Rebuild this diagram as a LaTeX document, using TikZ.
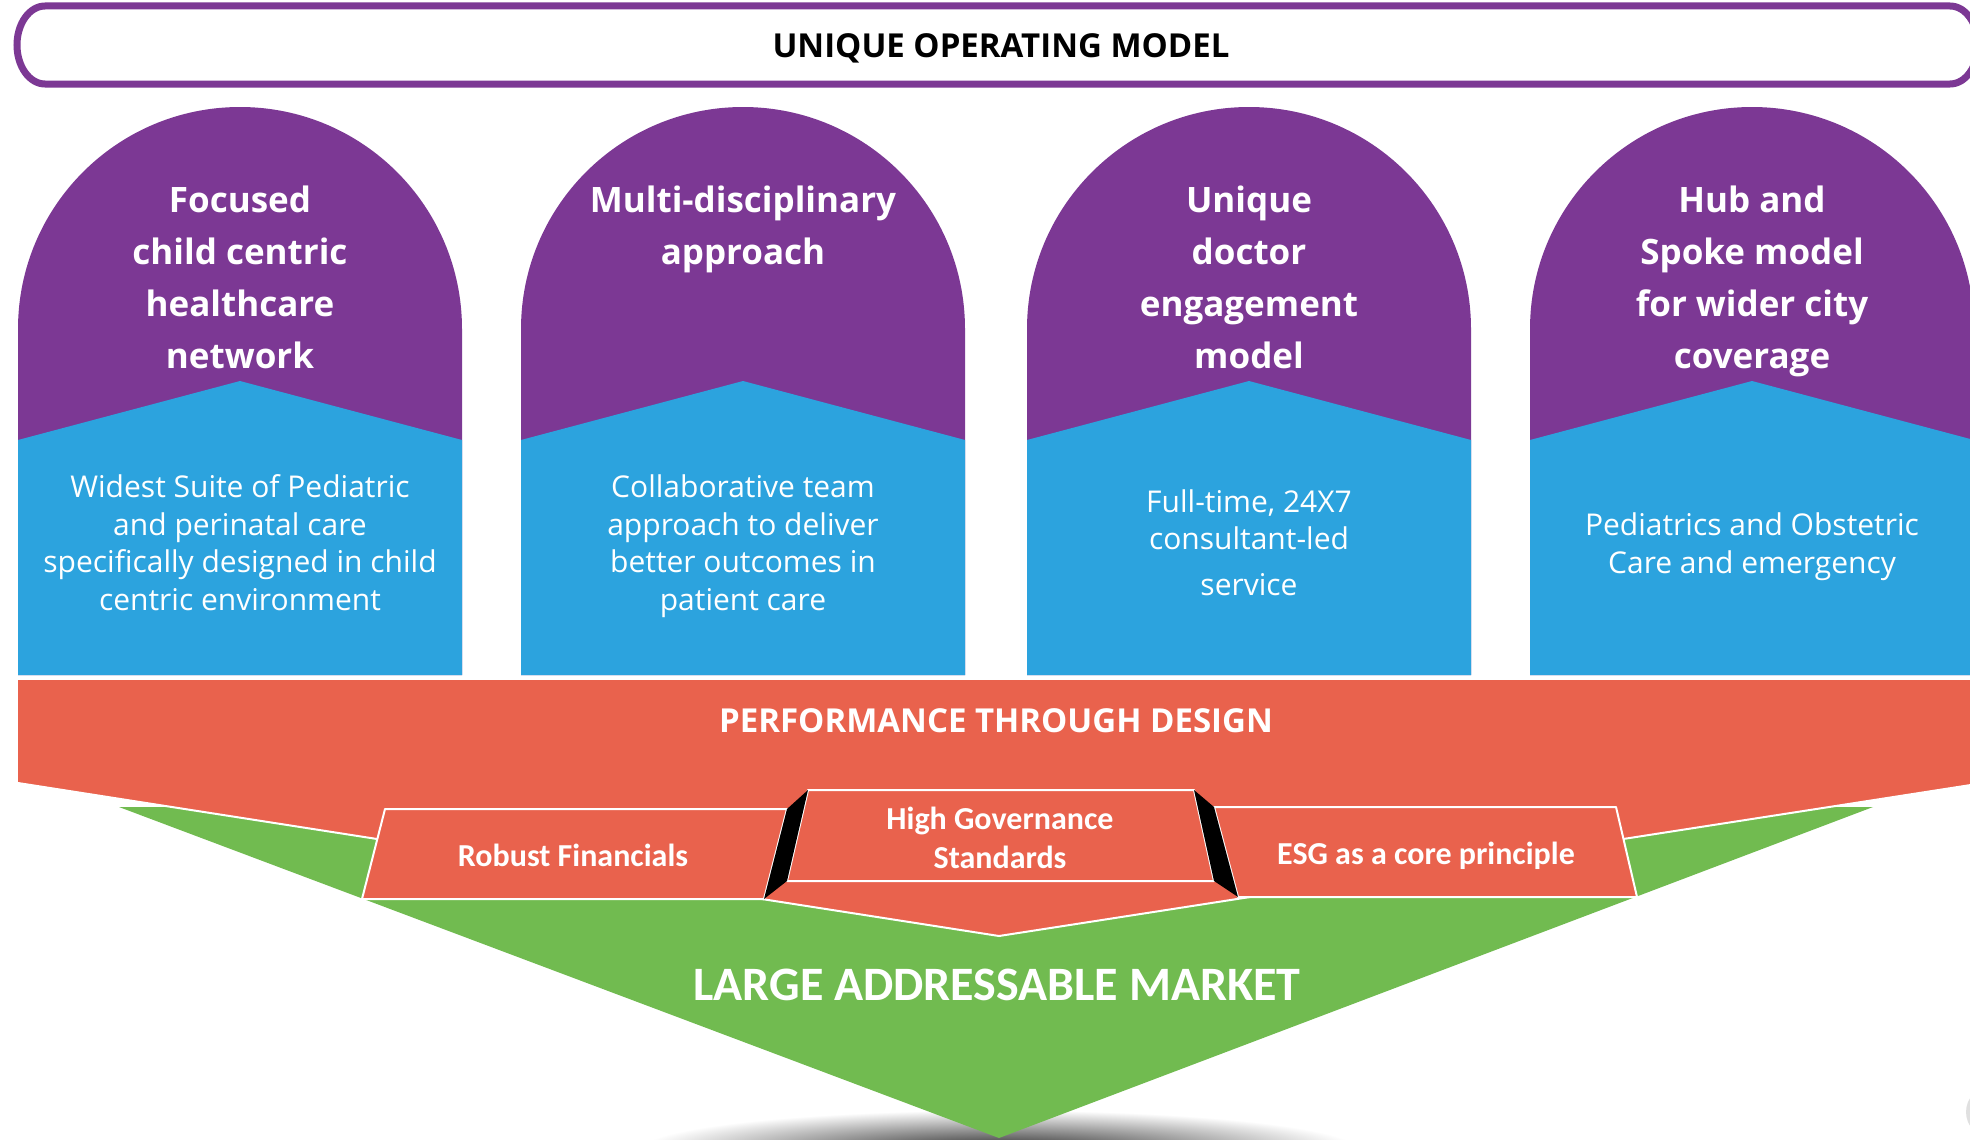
\documentclass[tikz,border=0pt]{standalone}
\usepackage{fontspec}
\setmainfont{Open Sans}
\newfontfamily\calibfont{Carlito}
\definecolor{modelpurple}{RGB}{124,56,148}
\definecolor{modelblue}{RGB}{44,163,222}
\definecolor{modelorange}{RGB}{233,98,77}
\definecolor{modelgreen}{RGB}{113,187,80}
\tikzset{
    pillar head/.style={text=white, align=center, anchor=base, font=\bfseries\fontsize{35}{52}\selectfont},
    pillar text/.style={text=white, align=center, anchor=base, font=\fontsize{30}{37.5}\selectfont},
    tile/.style={fill=modelorange, draw=white, line width=2pt, line join=round},
    tile text/.style={text=white, align=center, anchor=base, font=\calibfont\bfseries\fontsize{32}{39}\selectfont},
}
\begin{document}
\begin{tikzpicture}[x=1pt, y=-1pt]
    \pgfmathsetmacro{\halfw}{222};
    \pgfmathsetmacro{\archy}{329};
    \pgfmathsetmacro{\colbottom}{675};
    \useasboundingbox (0,0) rectangle (1970,1140);
    \fill[white] (0,0) rectangle (1970,1140);
    % title bar
    \draw[modelpurple, line width=7pt] (45,6) -- (1950,6) arc[start angle=90, end angle=-90, x radius=28pt, y radius=39pt] -- (45,84) arc[start angle=270, end angle=90, x radius=28pt, y radius=39pt] -- cycle;
    \node[anchor=base, font=\bfseries\fontsize{33}{38}\selectfont] (title) at (1001,58) {UNIQUE OPERATING MODEL};
    % the four pillars
    \foreach \cx in {240,743,1249,1752} {
        \fill[modelpurple] (\cx-\halfw,\colbottom) -- (\cx-\halfw,\archy) arc[start angle=180, end angle=0, radius=\halfw pt] -- (\cx+\halfw,\colbottom) -- cycle;
        \fill[modelblue] (\cx-\halfw,440) -- (\cx,381) -- (\cx+\halfw,440) -- (\cx+\halfw,\colbottom) -- (\cx-\halfw,\colbottom) -- cycle;
    }
    % base anchor sits on the last line
    \node[pillar head] (focus) at (240,368) {Focused\\child centric\\healthcare\\network};
    \node[pillar head] (multi) at (743,264) {Multi-disciplinary\\approach};
    \node[pillar head] (doctor) at (1249,368) {Unique\\doctor\\engagement\\model};
    \node[pillar head] (hub) at (1752,368) {Hub and\\Spoke model\\for wider city\\coverage};
    \node[pillar text] (suite) at (240,610) {Widest Suite of Pediatric\\and perinatal care\\specifically designed in child\\centric environment};
    \node[pillar text] (team) at (743,610) {Collaborative team\\approach to deliver\\better outcomes in\\patient care};
    \node[pillar text] (fulltime) at (1249,595) {Full-time, 24X7\\consultant-led\\[8pt]service};
    \node[pillar text] (obstetric) at (1752,573) {Pediatrics and Obstetric\\Care and emergency};
    % shadow under the tip
    \shade[inner color=black!85, outer color=white] (999,1150) ellipse[x radius=360pt, y radius=40pt];
    % market triangle and design band
    \fill[modelgreen] (119,807) -- (1873,807) -- (999,1138) -- cycle;
    \fill[modelorange] (18,680) -- (1990,680) -- (1990,782) -- (999,936) -- (18,783) -- cycle;
    \draw[white, line width=2pt] (18,783) -- (999,936) -- (1990,782);
    % tiles
    \draw[tile] (385,809) -- (787,809) -- (764,899) -- (362,899) -- cycle;
    \draw[tile] (808,790) -- (1194,790) -- (1214,881) -- (787,881) -- cycle;
    \draw[tile] (1214,807) -- (1616,807) -- (1637,897) -- (1238,897) -- cycle;
    \fill[black] (787,809) -- (808,790) -- (787,881) -- (764,899) -- cycle;
    \fill[black] (1194,790) -- (1214,807) -- (1238,897) -- (1214,881) -- cycle;
    \node[anchor=base, text=white, font=\bfseries\fontsize{33}{38}\selectfont] (design) at (996,732) {PERFORMANCE THROUGH DESIGN};
    \node[tile text] (finance) at (573,866) {Robust Financials};
    \node[tile text] (govern) at (1000,868) {High Governance\\Standards};
    \node[tile text] (esg) at (1426,864) {ESG as a core principle};
    \node[anchor=base, text=white, font=\calibfont\bfseries\fontsize{48}{56}\selectfont] (market) at (997,1000) {LARGE ADDRESSABLE MARKET};
    \fill[black!12] (1992,1112) circle[radius=26pt];
\end{tikzpicture}
\end{document}
